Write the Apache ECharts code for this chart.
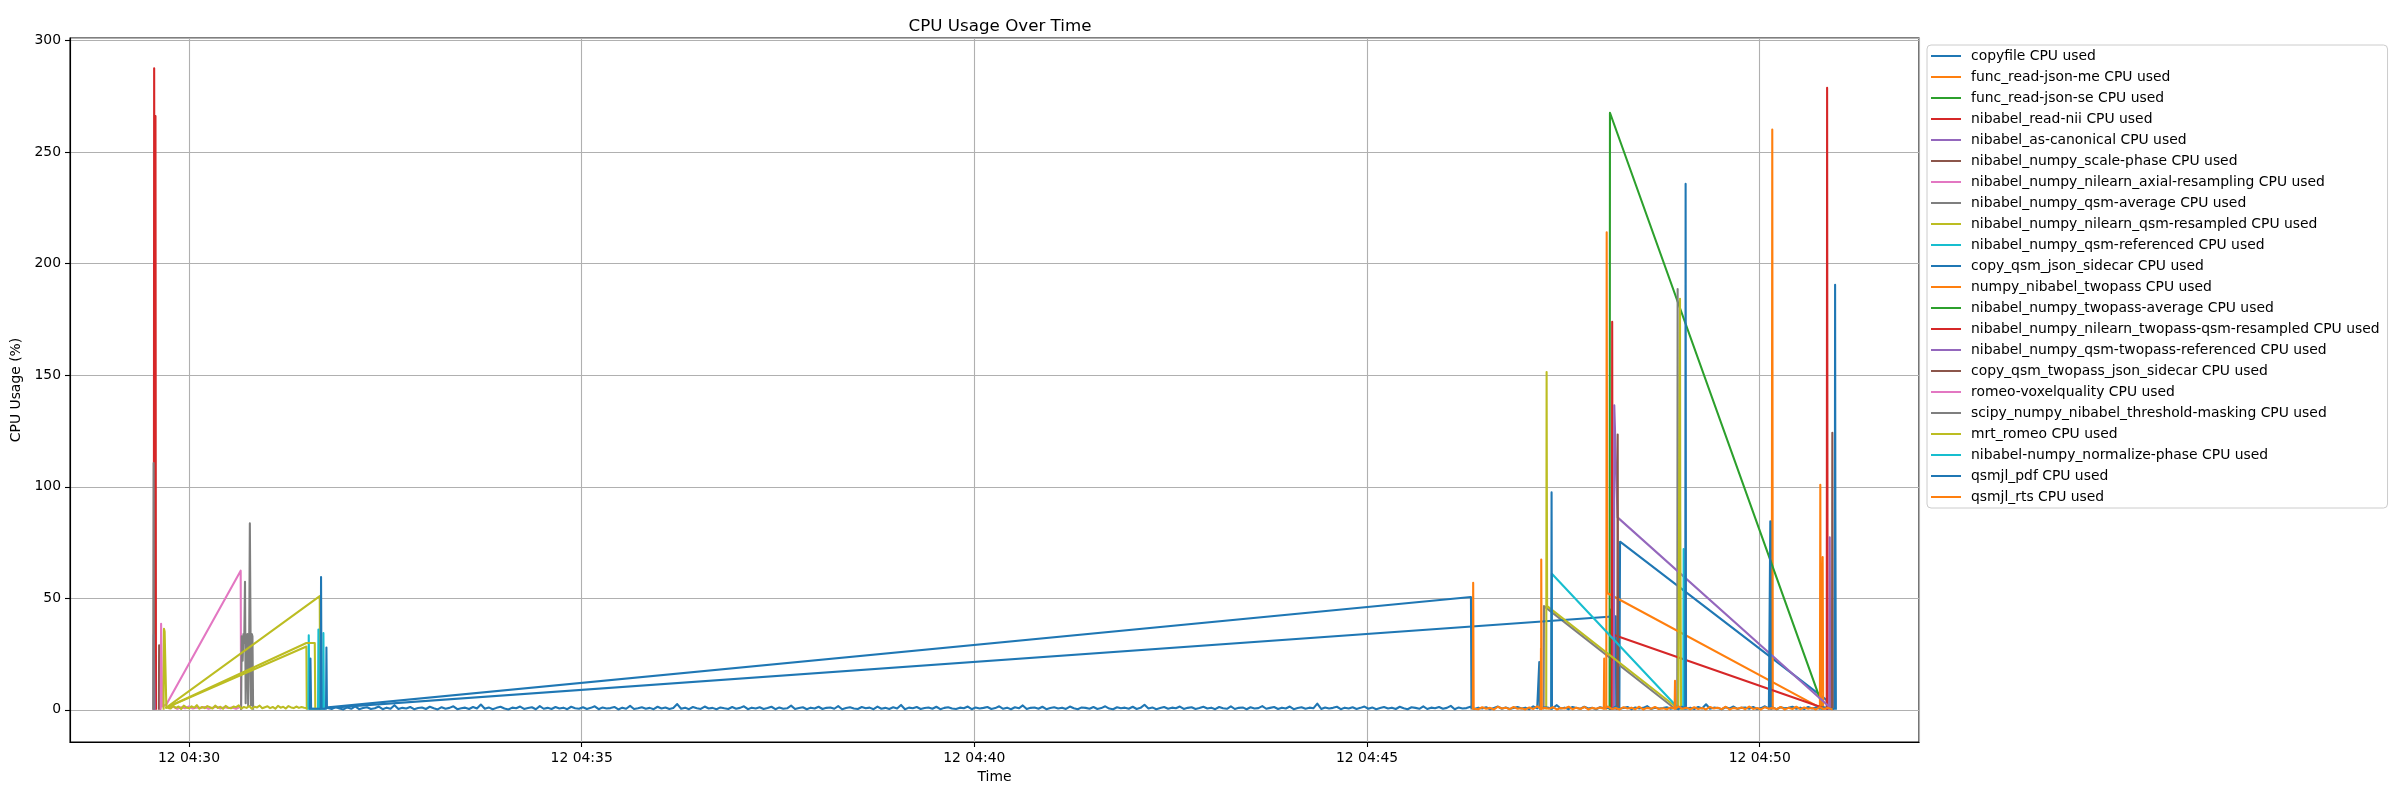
<!DOCTYPE html>
<html><head><meta charset="utf-8">
<script src="https://cdn.jsdelivr.net/npm/echarts@6/dist/echarts.min.js"></script>
<style>html,body{margin:0;padding:0;background:#fff}#chart{width:2400px;height:800px}</style>
</head><body><div id="chart"></div>
<script>
// ---- DATA (time = seconds relative to 12 04:30:00, value = CPU %) ----
const xTickValues = [0, 300, 600, 900, 1200];
const xTickLabels = ['12 04:30', '12 04:35', '12 04:40', '12 04:45', '12 04:50'];
const yTickValues = [0, 50, 100, 150, 200, 250, 300];

const seriesNames = [
  'copyfile CPU used', 'func_read-json-me CPU used', 'func_read-json-se CPU used',
  'nibabel_read-nii CPU used', 'nibabel_as-canonical CPU used', 'nibabel_numpy_scale-phase CPU used',
  'nibabel_numpy_nilearn_axial-resampling CPU used', 'nibabel_numpy_qsm-average CPU used',
  'nibabel_numpy_nilearn_qsm-resampled CPU used', 'nibabel_numpy_qsm-referenced CPU used',
  'copy_qsm_json_sidecar CPU used', 'numpy_nibabel_twopass CPU used',
  'nibabel_numpy_twopass-average CPU used', 'nibabel_numpy_nilearn_twopass-qsm-resampled CPU used',
  'nibabel_numpy_qsm-twopass-referenced CPU used', 'copy_qsm_twopass_json_sidecar CPU used',
  'romeo-voxelquality CPU used', 'scipy_numpy_nibabel_threshold-masking CPU used',
  'mrt_romeo CPU used', 'nibabel-numpy_normalize-phase CPU used', 'qsmjl_pdf CPU used', 'qsmjl_rts CPU used'
];

const copyfilePts = [[104.5,1.0],[979.4,50.6],[979.8,0.6],null,[1092.8,0.6],[1093.3,75.4],[1251.2,4.4],[1251.6,0.5]];
const funcReadJsonMePts = [[1209.2,0.5],[1209.6,260.2],[1210.0,0.5]];
const funcReadJsonSePts = [[1085.3,0.5],[1085.6,267.7],[1247.4,2.8],[1247.8,0.5]];
const readNiiPts = [[-26.9,0.5],[-26.6,287.6],[-26.1,40.0],[-25.6,266.2],[-25.2,0.5]];
const asCanonicalPts = [[-27.1,0.5],[-26.9,33.6],[-26.4,33.6],[-26.2,0.5]];
const scalePhasePts = [[-23.0,0.5],[-22.8,29.0],[-22.4,29.0],[-22.2,0.5]];
const axialResamplingPts = [[-21.6,0.5],[-21.3,38.6],[-20.8,38.0],[-20.4,1.5],[-17.3,2.4],[39.5,62.4],[39.8,0.5]];
const qsmAveragePts = [[39.8,0.5],[40.3,33.0],[41.0,22.0],[41.6,34.0],[42.2,30.0],[42.8,57.4],[43.3,3.0],[44.0,30.0],[44.6,34.0],[45.2,2.0],[46.0,30.0],[46.5,83.6],[46.9,83.6],[47.4,2.0],[48.0,34.0],[48.5,33.0],[49.0,0.5],null,[1034.9,0.6],[1035.2,46.5],[1135.3,0.5],[1137.0,0.5],[1137.3,188.7],[1137.6,0.5]];
const qsmResampledPts = [[-17.3,1.0],[89.7,28.4],[90.0,0.5],null,[-17.3,1.0],[99.9,51.0],[100.2,0.5]];
const qsmReferencedPts = [[91.2,0.5],[91.5,33.4],[92.0,0.5],[98.6,0.5],[98.9,36.0],[99.3,0.5],[102.4,0.5],[102.7,34.4],[103.1,0.5]];
const copyQsmJsonSidecarPts = [[104.5,0.8],[1090.0,42.0],[1090.4,0.5]];
const twopassPts = [[1082.8,0.5],[1083.1,214.1],[1083.5,52.4],[1246.0,1.0],[1246.3,100.9],[1246.7,0.8],[1247.8,0.8],[1248.1,68.5],[1248.5,0.5]];
const twopassAveragePts = [[1085.8,0.5],[1086.0,45.0],[1086.3,0.5]];
const twopassQsmResampledPts = [[1087.0,0.5],[1087.3,174.0],[1087.6,33.8],[1246.0,1.4],[1251.2,0.5],[1251.5,278.9],[1251.9,0.5]];
const qsmTwopassReferencedPts = [[1088.6,0.5],[1088.9,136.6],[1091.4,86.3],[1253.2,1.4],[1253.5,77.4],[1253.9,0.5]];
const copyQsmTwopassSidecarPts = [[1091.2,0.5],[1091.5,123.4],[1091.9,0.6],null,[1255.2,0.6],[1255.5,124.2],[1255.9,0.5]];

const romeoVoxelqualityNoiseStart = -15, romeoVoxelqualityNoiseStep = 3;
const romeoVoxelqualityNoise = [0.8,1.4,0.5,1.2,0.7,1.5,0.6,1.1,0.9,1.3,0.5,1.0,1.4,0.6,1.2,0.8,1.1,0.5,1.3];

const thresholdMaskingPts = [[-27.3,0.5],[-27.0,110.7],[-26.8,0.5]];

const mrtRomeoHeadPts = [[-19.4,0.5],[-19.1,36.4],[-18.6,35.0],[-17.3,1.2]];
const mrtRomeoNoiseStart = -16, mrtRomeoNoiseStep = 2;
const mrtRomeoNoise = [1.2,0.6,1.8,0.9,1.5,0.4,1.9,1.1,0.7,1.6,1.0,2.1,0.5,1.3,0.8,1.7,1.2,0.6,1.9,0.9,
  1.4,0.5,1.8,1.0,0.7,1.5,1.2,2.0,0.6,1.3,0.9,1.7,0.5,1.4,1.1,1.9,0.7,1.2,1.6,0.8,
  1.3,0.5,1.8,1.0,1.4,0.6,1.7,1.1,0.8,1.5,0.9,1.3,1.0];
const mrtRomeoTailPts = [[89.7,0.8],null,[-17.3,1.0],[89.7,30.0],[96.1,30.0],[96.5,0.5],null,[1036.9,0.6],[1037.2,151.5],[1037.6,46.5],[1137.8,0.5],[1138.9,0.5],[1139.1,184.3],[1139.3,89.0],[1139.9,0.5]];

const normalizePhasePts = [[1040.9,0.5],[1041.2,61.0],[1136.6,1.5],[1141.6,0.5],[1141.9,72.1],[1142.3,0.5]];

const qsmjlPdfSpikePts = [[92.4,0.5],[92.8,23.0],[93.3,0.5],[100.6,0.5],[100.9,59.6],[101.3,0.5],[104.7,0.5],[105.0,28.0],[105.4,1.0],
  [1031.3,0.5],[1031.6,21.4],[1031.9,0.5],[1040.7,0.5],[1041.0,97.5],[1041.3,0.5],[1143.1,0.5],[1143.4,235.8],[1143.7,0.5],
  [1207.8,0.5],[1208.1,84.5],[1208.4,0.5],[1257.3,0.5],[1257.6,190.6],[1257.8,90.0],[1258.2,0.5]];
const qsmjlPdfNoiseStart = 106, qsmjlPdfNoiseStep = 3;
const qsmjlPdfNoise = [
  0.9,0.4,1.3,0.6,0.2,1.1,0.5,1.6,0.3,0.8,1.2,0.4,0.7,1.5,0.3,1.0,0.5,2.1,0.4,0.9,
  0.6,1.3,0.3,0.8,1.1,0.4,1.4,0.7,0.2,1.2,0.5,0.9,1.6,0.3,0.7,1.0,0.4,1.3,0.6,2.4,
  0.5,1.1,0.3,0.9,1.4,0.6,0.2,1.0,0.7,1.5,0.4,0.8,1.2,0.3,1.7,0.5,0.9,0.4,1.3,0.6,
  1.0,0.3,1.4,0.7,0.5,1.2,0.4,0.9,1.6,0.3,1.1,0.6,0.8,1.3,0.2,1.0,0.5,1.8,0.4,0.7,
  1.2,0.5,0.9,0.3,1.4,0.6,1.1,0.4,0.8,2.6,0.5,1.0,0.3,1.3,0.7,0.4,1.5,0.6,0.9,0.3,
  1.1,0.7,0.4,1.3,0.5,0.9,1.6,0.3,1.0,0.6,1.2,0.4,0.8,1.4,0.3,1.1,0.5,0.7,1.9,0.4,
  0.8,1.2,0.3,1.0,0.6,1.4,0.4,0.9,1.1,0.5,1.7,0.3,0.8,1.2,0.6,0.4,1.3,0.7,1.0,0.3,
  1.5,0.5,0.9,0.4,1.2,0.6,2.2,0.3,1.0,0.7,1.3,0.4,0.8,1.1,0.5,1.4,0.3,0.9,1.2,0.6,
  0.4,1.0,0.7,1.5,0.3,1.1,0.6,0.9,1.3,0.4,0.8,1.6,0.5,1.0,0.3,1.2,0.7,2.0,0.4,0.9,
  1.1,0.5,1.4,0.3,0.8,1.2,0.6,1.0,0.4,1.5,0.7,0.3,1.1,0.9,0.5,1.3,0.4,0.8,1.6,0.6,
  0.3,1.2,0.7,1.0,0.5,1.4,0.4,0.9,2.3,0.6,1.1,0.3,0.8,1.3,0.5,1.0,0.7,1.5,0.4,0.9,
  1.2,0.4,0.8,1.4,0.6,1.0,0.3,1.3,0.7,0.5,1.6,0.4,0.9,1.1,0.3,1.2,0.6,0.8,1.7,0.5,
  0.9,1.3,0.4,1.0,0.6,1.5,0.3,0.8,1.2,0.5,1.0,0.7,2.8,0.4,1.1,0.6,0.9,1.4,0.3,1.0,
  0.6,1.2,0.4,0.9,1.5,0.5,1.1,0.3,0.8,1.3,0.6,1.0,0.4,1.4,0.7,0.3,1.2,0.9,0.5,1.6,
  0.4,1.0,0.7,1.3,0.5,0.9,1.8,0.3,1.1,0.6,0.8,1.4,0.4,1.0,0.6,1.2,0.3,0.9,1.5,0.5,
  1.1,0.4,0.8,1.3,0.6,1.0,0.3,1.6,0.7,0.5,1.2,0.9,0.4,2.1,0.6,1.0,0.3,1.3,0.8,0.5,
  1.4,0.6,0.9,0.3,1.2,0.7,1.0,0.4,1.5,0.5,0.8,1.3,0.3,1.1,0.6,0.9,1.7,0.4,1.0,0.6,
  0.8,1.2,0.5,1.0,0.3,1.4,0.7,0.9,0.4,1.3,0.6,2.5,0.5,1.0,0.8,0.3,1.2,0.6,1.5,0.4,
  0.9,1.1,0.5,1.3,0.4,0.8,1.6,0.6,1.0,0.3,1.2,0.7,0.9,1.4,0.5,1.0,0.4,1.3,0.6,1.1,
  0.5,1.2,0.8,0.4];

const qsmjlRtsSpikePts = [[980.8,0.5],[981.1,57.0],[981.5,0.5],[1032.6,0.5],[1032.9,27.6],[1033.1,67.4],[1033.5,0.5],
  [1080.9,0.5],[1081.2,23.0],[1081.5,0.5],[1135.0,0.5],[1135.3,13.0],[1135.6,0.5]];
const qsmjlRtsNoiseStart = 982, qsmjlRtsNoiseStep = 3;
const qsmjlRtsNoise = [
  0.8,0.3,1.2,0.5,0.9,0.2,1.4,0.6,1.0,0.3,1.3,0.5,0.7,0.2,1.1,0.4,1.6,0.3,0.9,0.5,
  1.2,0.2,0.8,0.6,1.4,0.3,1.0,0.4,1.3,0.2,0.9,0.5,1.1,0.3,1.5,0.4,0.8,0.2,1.2,0.6,
  1.0,0.3,1.4,0.2,0.9,0.5,1.3,0.4,0.7,0.3,1.1,0.2,1.6,0.5,1.0,0.3,1.2,0.4,0.8,0.2,
  1.3,0.6,1.0,0.3,1.4,0.2,0.9,0.5,1.1,0.3,1.5,0.4,0.8,0.2,1.2,0.5,1.0,0.3,1.3,0.2,
  0.9,0.4,1.4,0.3,1.1,0.5,0.8,0.2,1.2,0.4,1.0,0.3];

// ---- BUILD ----
const palette = ['#1f77b4','#ff7f0e','#2ca02c','#d62728','#9467bd','#8c564b','#e377c2','#7f7f7f','#bcbd22','#17becf'];
function noisePts(start, step, vals) { return vals.map((v, i) => [start + i * step, v]); }
function toData(pts) { return pts.map(p => p === null ? [NaN, NaN] : [p[0], p[1]]); }
const byTime = (a, b) => a[0] - b[0];

const seriesPoints = [
  copyfilePts, funcReadJsonMePts, funcReadJsonSePts, readNiiPts, asCanonicalPts, scalePhasePts,
  axialResamplingPts, qsmAveragePts, qsmResampledPts, qsmReferencedPts, copyQsmJsonSidecarPts,
  twopassPts, twopassAveragePts, twopassQsmResampledPts, qsmTwopassReferencedPts, copyQsmTwopassSidecarPts,
  noisePts(romeoVoxelqualityNoiseStart, romeoVoxelqualityNoiseStep, romeoVoxelqualityNoise),
  thresholdMaskingPts,
  [...mrtRomeoHeadPts, ...noisePts(mrtRomeoNoiseStart, mrtRomeoNoiseStep, mrtRomeoNoise), ...mrtRomeoTailPts],
  normalizePhasePts,
  [...qsmjlPdfSpikePts, ...noisePts(qsmjlPdfNoiseStart, qsmjlPdfNoiseStep, qsmjlPdfNoise)].sort(byTime),
  [...qsmjlRtsSpikePts, ...noisePts(qsmjlRtsNoiseStart, qsmjlRtsNoiseStep, qsmjlRtsNoise)].sort(byTime)
];

const FONT = 'DejaVu Sans';
const LW = 2.08; // 1.5pt at 100 dpi
// legend handle: a 30x2 bar, padded by invisible slivers to span the full 14px item height
const LEGEND_LINE_ICON = 'path://M0,0L30,0L30,0.01Z M0,6H30V8H0Z M0,14L30,14L30,13.99Z';
const series = seriesNames.map((name, i) => ({
  name, type: 'line', data: toData(seriesPoints[i]), symbol: 'none', showSymbol: false,
  connectNulls: false, silent: true, animation: false,
  lineStyle: { width: LW, color: palette[i % 10], cap: 'square', join: 'round' }, itemStyle: { color: palette[i % 10] },
  emphasis: { disabled: true }
}));

const chart = echarts.init(document.getElementById('chart'), null, { renderer: 'canvas' });
chart.setOption({
  animation: false,
  backgroundColor: '#fff',
  color: palette,
  title: {
    text: 'CPU Usage Over Time', left: 995, top: 13, textAlign: 'center',
    textStyle: { fontFamily: FONT, fontSize: 16.7, fontWeight: 'normal', color: '#000' }
  },
  legend: {
    orient: 'vertical', left: 1927, top: 45,
    data: seriesNames.map(n => ({ name: n, icon: LEGEND_LINE_ICON })),
    itemWidth: 30, itemHeight: 14, itemGap: 7, padding: [4, 8, 4, 4],
    borderColor: '#cccccc', borderWidth: 1, borderRadius: 4, backgroundColor: 'rgba(255,255,255,0.8)',
    textStyle: { fontFamily: FONT, fontSize: 13.9, color: '#000', padding: [0, 0, 0, 5] },
    selectedMode: false
  },
  grid: { left: 70, right: 481, top: 38, bottom: 58, show: true, borderColor: '#000', borderWidth: 1.1, containLabel: false },
  xAxis: {
    type: 'value', min: -90.9, max: 1321.7, minInterval: 300, maxInterval: 300, splitNumber: 5,
    name: 'Time', nameLocation: 'middle', nameGap: 28,
    nameTextStyle: { fontFamily: FONT, fontSize: 13.9, color: '#000' },
    axisLine: { show: true, onZero: false, lineStyle: { color: '#000', width: 1.1 } },
    axisTick: { show: true, length: 5, lineStyle: { color: '#000', width: 1.1 } },
    axisLabel: {
      color: '#000', fontFamily: FONT, fontSize: 13.9, margin: 9, showMinLabel: false, showMaxLabel: false,
      formatter: v => { const k = xTickValues.indexOf(Math.round(v)); return (k >= 0 && Math.abs(v - xTickValues[k]) < 1e-6) ? xTickLabels[k] : ''; }
    },
    splitLine: { show: true, lineStyle: { color: '#b0b0b0', width: 1.1 } }
  },
  yAxis: {
    type: 'value', min: -14.4, max: 301.2, minInterval: 50, maxInterval: 50, splitNumber: 6,
    name: 'CPU Usage (%)', nameLocation: 'middle', nameGap: 35, nameRotate: 90,
    nameTextStyle: { fontFamily: FONT, fontSize: 13.9, color: '#000' },
    axisLine: { show: true, onZero: false, lineStyle: { color: '#000', width: 1.1 } },
    axisTick: { show: true, length: 5, lineStyle: { color: '#000', width: 1.1 } },
    axisLabel: {
      color: '#000', fontFamily: FONT, fontSize: 13.9, margin: 9, showMinLabel: false, showMaxLabel: false,
      formatter: v => yTickValues.some(t => Math.abs(t - v) < 1e-6) ? String(Math.round(v)) : ''
    },
    splitLine: { show: true, lineStyle: { color: '#b0b0b0', width: 1.1 } }
  },
  series
});
</script></body></html>
